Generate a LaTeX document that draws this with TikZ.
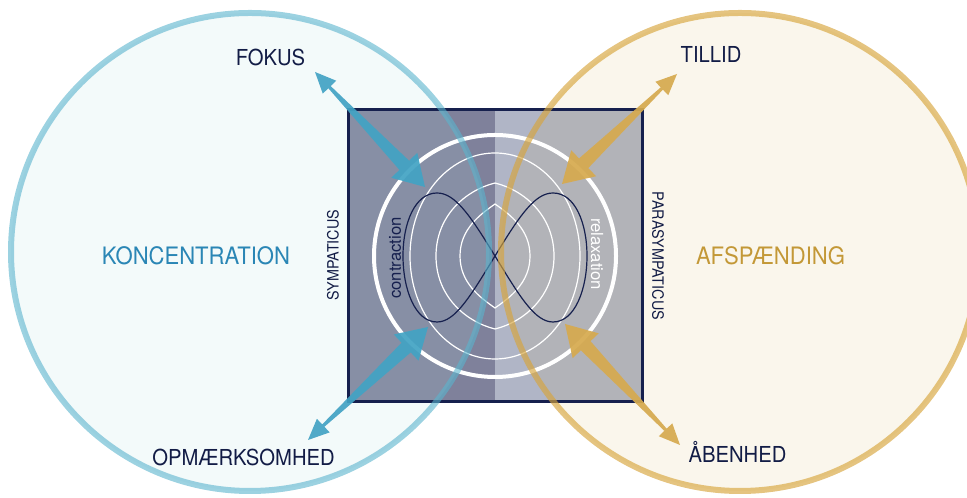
\documentclass[tikz,border=0pt]{standalone}
\usepackage{fontspec}
\setmainfont{TeX Gyre Heros}
\newfontfamily\condfont[FakeStretch=0.92]{TeX Gyre Heros}
\usetikzlibrary{calc}

\definecolor{navy}{RGB}{22,32,78}
\definecolor{labelnavy}{RGB}{18,28,70}
\definecolor{concblue}{RGB}{42,134,181}
\definecolor{relaxgold}{RGB}{195,152,55}
\definecolor{sympleft}{RGB}{127,129,155}
\definecolor{pararight}{RGB}{176,181,198}
\definecolor{cyanfill}{RGB}{182,221,222}
\definecolor{goldfill}{RGB}{205,165,65}
\definecolor{cyanring}{RGB}{90,180,205}
\definecolor{goldring}{RGB}{215,165,60}
\definecolor{bluearrow}{RGB}{66,163,196}
\definecolor{goldarrow}{RGB}{214,170,78}

% tapered double-headed arrow: #1 outer end, #2 inner end, #3 fill style
\newcommand\twoway[3]{%
  \path ($(#1)!15.75pt!(#2)$) coordinate (ab1)
        ($(#2)!22.5pt!(#1)$) coordinate (ab2);
  \fill[#3] (#1)
    -- ($(ab1)!7pt!90:(#2)$) -- ($(ab1)!1.2pt!90:(#2)$)
    -- ($(ab2)!5pt!90:(#2)$) -- ($(ab2)!13.5pt!90:(#2)$)
    -- (#2)
    -- ($(ab2)!13.5pt!-90:(#2)$) -- ($(ab2)!5pt!-90:(#2)$)
    -- ($(ab1)!1.2pt!-90:(#2)$) -- ($(ab1)!7pt!-90:(#2)$)
    -- cycle;
}

% closed curve around the centre: rx, ry, top handle x-fraction,
% top handle drop fraction, side handle fraction
\newcommand\lensring[5]{%
  \draw[thinring] (495,{242+#2})
    .. controls ({495+#3*#1},{242+#2-#4*#2}) and ({495+#1},{242+#5*#2}) .. ({495+#1},242)
    .. controls ({495+#1},{242-#5*#2}) and ({495+#3*#1},{242-#2+#4*#2}) .. (495,{242-#2})
    .. controls ({495-#3*#1},{242-#2+#4*#2}) and ({495-#1},{242-#5*#2}) .. ({495-#1},242)
    .. controls ({495-#1},{242+#5*#2}) and ({495-#3*#1},{242+#2-#4*#2}) .. cycle;
}

\begin{document}
\begin{tikzpicture}[x=0.75pt,y=0.75pt,
  word/.style={font={\condfont\fontsize{16.5}{18}\selectfont}, text=labelnavy, inner sep=0pt, anchor=base},
  bigword/.style={font={\condfont\fontsize{18}{20}\selectfont}, inner sep=0pt, anchor=base},
  sideword/.style={font={\condfont\fontsize{11.7}{13}\selectfont}, text=labelnavy, inner sep=0pt},
  innerword/.style={font={\fontsize{12.5}{14}\selectfont}, inner sep=0pt},
  thinring/.style={draw=white, line width=0.9pt},
  bluetip/.style={fill=bluearrow, fill opacity=0.92},
  goldtip/.style={fill=goldarrow, fill opacity=0.92}]
\useasboundingbox (0,0) rectangle (967,498);
\clip (0,0) rectangle (967,498);

% the two halves of the square
\fill[sympleft] (348,96) rectangle (495,388);
\fill[pararight] (495,96) rectangle (642,388);

% tinted discs
\fill[cyanfill, fill opacity=0.16] (250,246) circle[radius=239];
\fill[goldfill, fill opacity=0.10] (740,246) circle[radius=239];

% square frame
\draw[navy, line width=2.25pt] (348,96) rectangle (642,388);

% white rings around the centre
\draw[white, line width=3pt] (495,242) circle[radius=121];
\lensring{85}{103}{0.552}{0}{0.552}
\lensring{59}{73}{0.5}{0.1}{0.55}
\lensring{35}{52}{0.42}{0.2}{0.52}

% figure eight
\draw[navy, line width=0.9pt]
  (495,242) .. controls (470,283) and (455,305) .. (437,305)
  .. controls (415,305) and (403,275) .. (403,242)
  .. controls (403,209) and (415,176) .. (437,176)
  .. controls (455,176) and (470,201) .. (495,242)
  .. controls (520,283) and (535,305) .. (553,305)
  .. controls (575,305) and (587,275) .. (587,242)
  .. controls (587,209) and (575,176) .. (553,176)
  .. controls (535,176) and (520,201) .. (495,242);

% words inside the white ring
\node[innerword, text=navy, rotate=90] (contr) at (395,240) {contraction};
\node[innerword, text=white, rotate=-90] (relax) at (597,244) {relaxation};

% side captions
\node[sideword, rotate=90] (symp) at (333,243) {SYMPATICUS};
\node[sideword, rotate=-90] (para) at (658,242) {PARASYMPATICUS};

% outer rings
\draw[cyanring, draw opacity=0.6, line width=4.5pt] (250,246) circle[radius=239];
\draw[goldring, draw opacity=0.65, line width=4.5pt] (740,246) circle[radius=239];

% headings
\node[bigword, text=concblue] (conc) at (196,233) {KONCENTRATION};
\node[bigword, text=relaxgold] (afsp) at (770.5,233) {AFSPÆNDING};

% corner words
\node[word] (fokus) at (270.5,432) {FOKUS};
\node[word] (tillid) at (711,435) {TILLID};
\node[word] (opm) at (243.5,32) {OPMÆRKSOMHED};
\node[word] (aaben) at (737.5,35) {ÅBENHED};

% arrow ends
\coordinate (fokus-out) at (315,426);
\coordinate (fokus-in) at (425,311);
\coordinate (opm-out) at (308,58);
\coordinate (opm-in) at (428,171);
\coordinate (tillid-out) at (677,424);
\coordinate (tillid-in) at (562,314);
\coordinate (aaben-out) at (680,53);
\coordinate (aaben-in) at (565,174);

\twoway{fokus-out}{fokus-in}{bluetip}
\twoway{opm-out}{opm-in}{bluetip}
\twoway{tillid-out}{tillid-in}{goldtip}
\twoway{aaben-out}{aaben-in}{goldtip}
\end{tikzpicture}
\end{document}
